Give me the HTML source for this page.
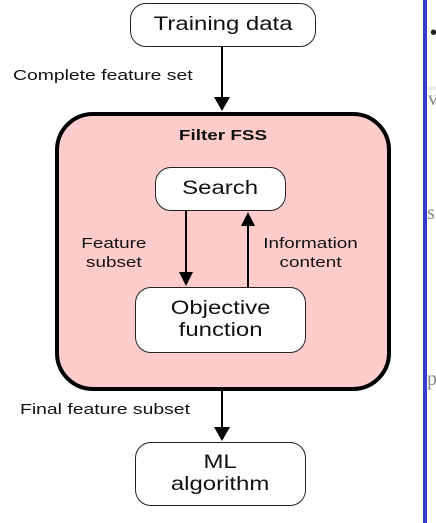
<!DOCTYPE html>
<html><head><style>
body{margin:0;width:436px;height:523px;background:#fff;position:relative;overflow:hidden;font-family:"Liberation Sans",Arial,sans-serif;}
.a{position:absolute}
.box{position:absolute;border:1.5px solid #222;border-radius:16px;background:#fff;display:flex;align-items:center;justify-content:center;text-align:center;font-size:19px;line-height:22px;color:#111;box-sizing:border-box}
.box span,.c span{display:inline-block;transform:scaleX(1.26);transform-origin:center}
.lab{position:absolute;font-size:15px;color:#111;line-height:19px}
.l span{display:inline-block;transform:scaleX(1.29);transform-origin:left}
</style></head><body>
<div class="box" style="left:130px;top:3px;width:186px;height:44px;"><span>Training data</span></div>
<div class="lab l" style="left:13px;top:66px;"><span>Complete feature set</span></div>
<div class="a" style="left:55px;top:112px;width:336px;height:279px;border:4.5px solid #000;border-radius:38px;background:#ffcccc;box-sizing:border-box"></div>
<div class="lab c" style="left:55px;top:126px;width:336px;text-align:center;font-weight:bold;"><span>Filter FSS</span></div>
<div class="box" style="left:155px;top:167px;width:131px;height:44px;"><span>Search</span></div>
<div class="box" style="left:135px;top:287px;width:171px;height:66px;"><span>Objective<br>function</span></div>
<div class="lab c" style="left:76px;top:234px;text-align:center;width:76px;"><span>Feature<br>subset</span></div>
<div class="lab c" style="left:258px;top:234px;text-align:center;width:106px;"><span>Information<br>content</span></div>
<div class="lab l" style="left:20px;top:400px;"><span>Final feature subset</span></div>
<div class="box" style="left:135px;top:442px;width:171px;height:64px;"><span>ML<br>algorithm</span></div>
<svg class="a" style="left:0;top:0" width="436" height="523">
<g stroke="#000" stroke-width="2" fill="#000">
<line x1="222" y1="47" x2="222" y2="98"/><polygon points="214,97 230,97 222,111" stroke="none"/>
<line x1="186" y1="211" x2="186" y2="273"/><polygon points="179,272 193,272 186,286" stroke="none"/>
<line x1="248" y1="287" x2="248" y2="225"/><polygon points="241,226 255,226 248,212" stroke="none"/>
<line x1="222" y1="391" x2="222" y2="428"/><polygon points="214,427 230,427 222,441" stroke="none"/>
</g></svg>
<div class="a" style="left:423px;top:0;width:4px;height:523px;background:#3a3acc"></div>
<div class="a" style="left:427px;top:86px;width:9px;height:4px;background:#eee"></div>
<div class="a" style="left:430px;top:22px;font-size:20px;color:#222">•</div>
<div class="a" style="left:428px;top:88px;font-family:'Liberation Serif',serif;font-size:20px;color:#888">v</div>
<div class="a" style="left:427px;top:202px;font-family:'Liberation Serif',serif;font-size:20px;color:#888">s</div>
<div class="a" style="left:427px;top:368px;font-family:'Liberation Serif',serif;font-size:20px;color:#888">p</div>
</body></html>
